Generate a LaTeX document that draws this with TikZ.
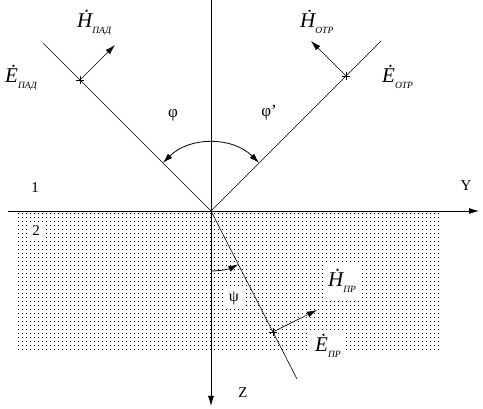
\documentclass[tikz,border=0pt]{standalone}
\usepackage{fontspec}
\setmainfont{Liberation Serif}
\usetikzlibrary{arrows.meta,calc}
\newcommand{\vlab}[2]{{\fontsize{21}{21}\selectfont\itshape\.{#1}}\raisebox{-6pt}{\fontsize{9.5}{9.5}\selectfont\itshape #2}}
\tikzset{
  thinln/.style={line width=0.6pt},
  axis/.style={line width=0.9pt,-{Latex[length=10pt,width=6pt]}},
  vec/.style={line width=0.6pt,-{Latex[length=10pt,width=6pt]}},
  ang/.style={line width=0.8pt},
  lab/.style={inner sep=0pt,anchor=base west},
  txt/.style={font=\fontsize{15}{15}\selectfont},
  box/.style={fill=white,inner sep=4pt}
}
\begin{document}
\begin{tikzpicture}[x=1pt,y=1pt]
\useasboundingbox (0,0) rectangle (483,409);
% dotted medium 2
\foreach \yy in {59,63,...,195}{
  \foreach \xx in {18,22,...,438}{
    \fill (\xx,\yy) rectangle ++(0.9,0.9);
  }
}
% coordinates
\coordinate (O) at (211,198);
\coordinate (A) at (43,366);
\coordinate (P1) at (80,329);
\coordinate (H1) at (115,364);
\coordinate (B) at (381,368);
\coordinate (P2) at (346,333);
\coordinate (H2) at (311,368);
\coordinate (C) at (297,30);
\coordinate (P3) at ($(O)!0.72!(C)$);
\coordinate (H3) at (317,99);
\coordinate (YL) at (8,198);
\coordinate (YR) at (479,198);
\coordinate (ZT) at (211,409);
\coordinate (ZB) at (211,3);
% axes
\draw[axis] (YL) -- (YR);
\draw[axis] (ZT) -- (ZB);
% rays
\draw[thinln] (A) -- (O);
\draw[thinln] (O) -- (B);
\draw[thinln] (O) -- (C);
% crosses
\foreach \p in {P1,P2,P3}{
  \draw[thinln] ($(\p)+(-4,0)$) -- ($(\p)+(4,0)$);
  \draw[thinln] ($(\p)+(0,-4)$) -- ($(\p)+(0,4)$);
}
% H vectors
\draw[vec] (P1) -- (H1);
\draw[vec] (P2) -- (H2);
\draw[vec] (P3) -- (H3);
% angle arcs
\draw[ang,{Latex[length=10pt,width=6pt]}-{Latex[length=10pt,width=6pt]}] ([shift={(135:68)}]O) arc[start angle=135,end angle=45,radius=68];
\draw[ang,-{Latex[length=10pt,width=6pt]}] ([shift={(270:60)}]O) arc[start angle=270,end angle=297.1,radius=60];
% labels
\node[lab] (lH1) at (77,381) {\vlab{H}{ПАД}};
\node[lab] (lE1) at (5,326) {\vlab{E}{ПАД}};
\node[lab] (lH2) at (300,381) {\vlab{H}{ОТР}};
\node[lab] (lE2) at (382,326) {\vlab{E}{ОТР}};
\node[lab,fill=white,inner sep=5pt] (lH3) at (323,122) {\vlab{H}{ПР}};
\node[lab,fill=white,inner sep=5pt] (lE3) at (310,57) {\vlab{E}{ПР}};
\node[txt,font=\fontsize{17}{17}\selectfont] (phi) at (173,294) {φ};
\node[txt,font=\fontsize{17}{17}\selectfont] (phip) at (269,296) {φ’};
\node[txt,font=\fontsize{16}{16}\selectfont,box] (psi) at (234,111) {ψ};
\node[txt] (one) at (35,221) {1};
\node[txt,box] (two) at (36,178) {2};
\node[txt] (ylab) at (466,223) {Y};
\node[txt] (zlab) at (243,16) {Z};
\end{tikzpicture}
\end{document}
